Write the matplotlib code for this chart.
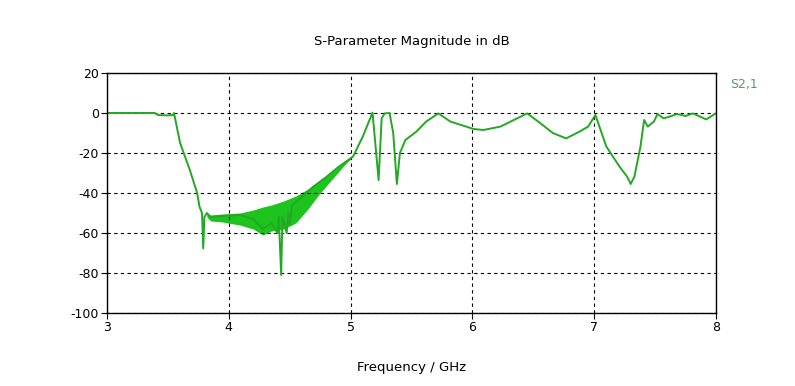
"""
S-Parameter magnitude (S2,1) in dB versus frequency, 3-8 GHz.
"""

import matplotlib.pyplot as plt

# Main trace (GHz, dB)
FREQ = [
    3.00, 3.39, 3.42, 3.50, 3.54, 3.55, 3.60, 3.68, 3.74, 3.76, 3.78, 3.79,
    3.80, 3.82, 3.85, 3.95, 4.09, 4.20, 4.28, 4.35, 4.40, 4.41, 4.43, 4.44,
    4.475, 4.49, 4.50, 4.52, 4.60, 4.69, 4.80, 4.90, 5.02, 5.10, 5.18, 5.23,
    5.255, 5.28, 5.32, 5.35, 5.38, 5.405, 5.45, 5.54, 5.62, 5.72, 5.82, 6.01,
    6.09, 6.23, 6.34, 6.45, 6.56, 6.66, 6.77, 6.88, 6.95, 7.01, 7.10, 7.21,
    7.27, 7.30, 7.33, 7.38, 7.41, 7.44, 7.49, 7.52, 7.57, 7.62, 7.68, 7.75,
    7.81, 7.92, 7.99, 8.00,
]
S21_DB = [
    0.0, 0.0, -1.0, -1.2, -1.0, 0.0, -15.0, -28.5, -40.0, -47.0, -50.0, -67.7,
    -52.0, -50.0, -52.0, -51.5, -51.0, -53.0, -58.0, -55.0, -60.0, -52.0, -81.0, -52.0,
    -60.0, -50.0, -56.0, -46.0, -42.0, -37.0, -32.0, -27.0, -21.8, -11.8, 0.2, -33.5,
    -2.7, -0.2, 0.0, -10.0, -35.5, -20.0, -13.5, -9.3, -4.3, -0.2, -4.3, -8.0,
    -8.5, -6.8, -3.5, -0.2, -5.2, -10.0, -12.7, -9.3, -6.8, -1.0, -16.8, -27.0,
    -31.8, -35.5, -31.8, -16.8, -3.5, -6.8, -4.3, -0.5, -2.7, -1.8, -0.5, -1.5,
    -0.2, -3.2, -0.5, -0.3,
]

# Dense ripple band in the stopband: upper / lower envelope (GHz, dB)
BAND_FREQ = [3.82, 3.85, 3.95, 4.09, 4.20, 4.28, 4.35, 4.45, 4.55, 4.65, 4.75, 4.85, 4.95, 5.00]
BAND_HI = [-50.0, -51.0, -50.5, -50.0, -48.5, -47.0, -46.0, -44.0, -41.5, -38.0, -34.0, -29.5, -24.5, -22.0]
BAND_LO = [-52.0, -54.0, -54.5, -56.0, -58.0, -61.0, -59.0, -58.0, -55.0, -48.0, -40.0, -33.0, -26.0, -23.0]

X_TICKS = [3, 4, 5, 6, 7, 8]
Y_TICKS = [20, 0, -20, -40, -60, -80, -100]

LINE_COLOR = "#22a822"

plt.rcParams["axes.unicode_minus"] = False

fig = plt.figure(figsize=(7.95, 3.86), dpi=100)
ax = fig.add_axes([0.1346, 0.1891, 0.766, 0.6218])

ax.fill_between(BAND_FREQ, BAND_LO, BAND_HI, color="#1ec41e", linewidth=0)
ax.plot(FREQ, S21_DB, color=LINE_COLOR, linewidth=1.4)

ax.set_xlim(3, 8)
ax.set_ylim(-100, 20)
ax.set_xticks(X_TICKS)
ax.set_yticks(Y_TICKS)
ax.tick_params(direction="out", length=4, width=0.8, labelsize=9, pad=2)
ax.grid(True, color="black", linestyle=(0, (3, 3)), linewidth=0.8)
for spine in ax.spines.values():
    spine.set_linewidth(1.0)

ax.set_title("S-Parameter Magnitude in dB", fontsize=9.5, pad=20)
ax.set_xlabel("Frequency / GHz", fontsize=9.5, labelpad=19)

fig.text(0.919, 0.78, "S2,1", color="#5a9a5a", fontsize=9, ha="left", va="center")

fig.savefig("out.png", dpi=100)
plt.close(fig)
